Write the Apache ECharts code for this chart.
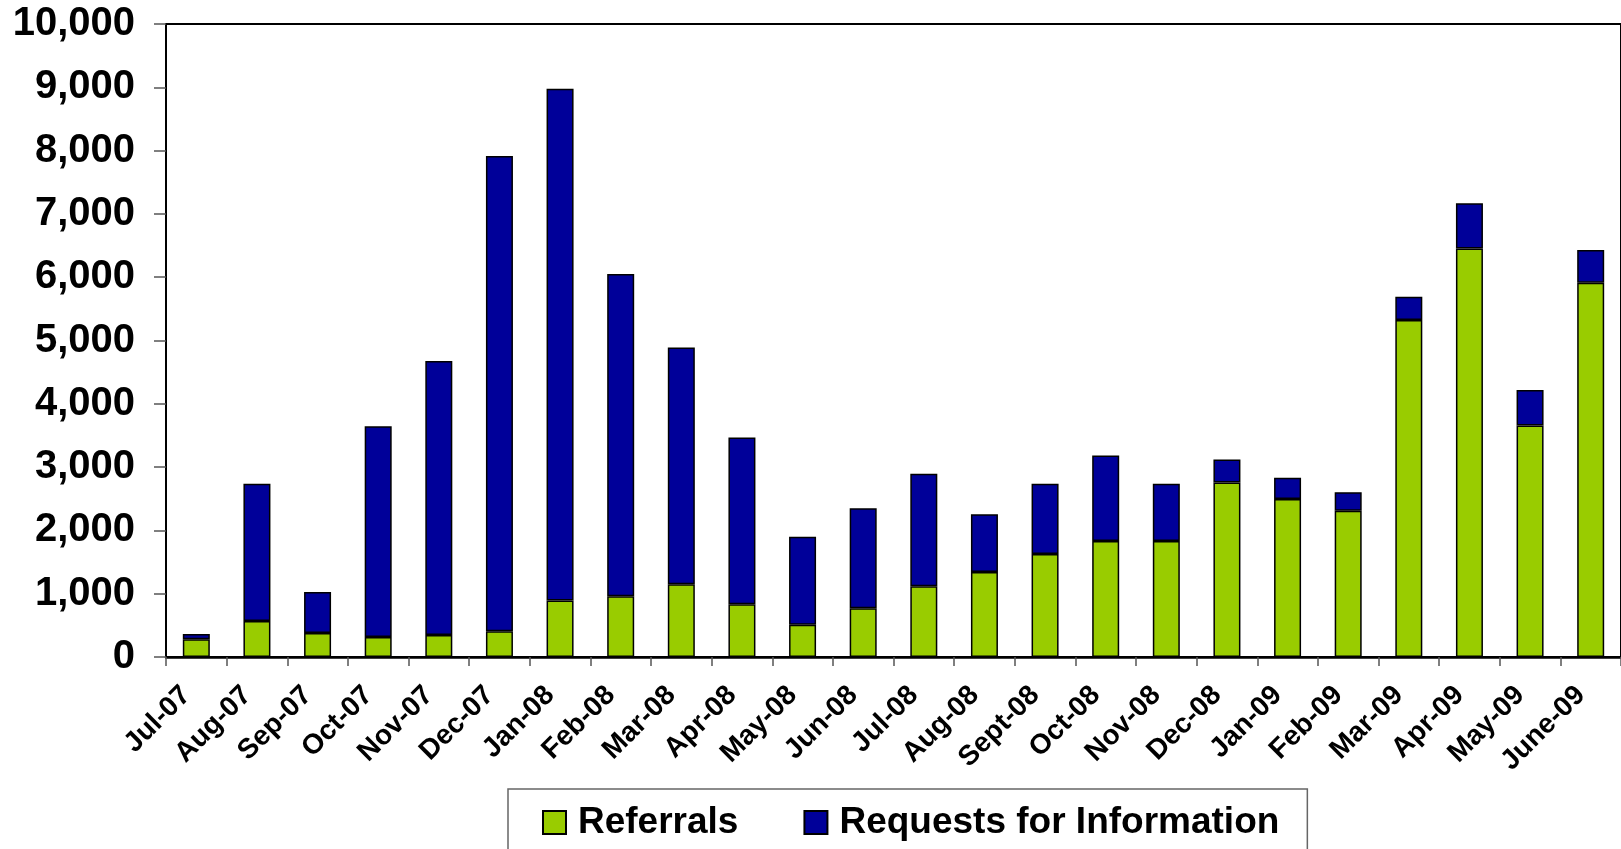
<!DOCTYPE html>
<html>
<head>
<meta charset="utf-8">
<script src="https://cdn.jsdelivr.net/npm/echarts@6/dist/echarts.min.js"></script>
<style>
html,body{margin:0;padding:0;background:#fff;}
#chart{width:1621px;height:849px;}
</style>
</head>
<body>
<div id="chart"></div>
<script>
const categories = ['Jul-07','Aug-07','Sep-07','Oct-07','Nov-07','Dec-07','Jan-08','Feb-08','Mar-08','Apr-08','May-08','Jun-08','Jul-08','Aug-08','Sept-08','Oct-08','Nov-08','Dec-08','Jan-09','Feb-09','Mar-09','Apr-09','May-09','June-09'];
const referrals = [280, 570, 380, 316, 348, 406, 891, 959, 1149, 833, 511, 770, 1117, 1344, 1629, 1834, 1834, 2757, 2498, 2309, 5325, 6452, 3659, 5914];
const requests = [84, 2166, 648, 3331, 4329, 7509, 8087, 5092, 3741, 2634, 1387, 1581, 1777, 912, 1107, 1350, 902, 363, 333, 295, 368, 717, 558, 517];
const yMin = 0, yMax = 10000, yInterval = 1000;

const FONT = "'Liberation Sans', Arial, sans-serif";
const chart = echarts.init(document.getElementById('chart'), null, {renderer: 'canvas'});
chart.setOption({
  animation: false,
  backgroundColor: '#fff',
  grid: {
    left: 166, top: 24, right: -6, bottom: 192,
    show: true, borderColor: '#000', borderWidth: 2, backgroundColor: 'transparent'
  },
  legend: {
    left: 508, top: 789,
    padding: [15, 28, 23, 34],
    itemWidth: 23, itemHeight: 23, itemGap: 65,
    borderColor: '#666', borderWidth: 1.5,
    icon: 'rect',
    textStyle: {fontFamily: FONT, fontWeight: 'bold', fontSize: 37, color: '#000', padding: [0, 0, 0, 7]},
    data: ['Referrals', 'Requests for Information']
  },
  xAxis: {
    type: 'category',
    data: categories,
    boundaryGap: true,
    axisLine: {lineStyle: {color: '#000', width: 2.5}},
    axisTick: {show: true, length: 9, inside: false, lineStyle: {color: '#555', width: 1.5}},
    axisLabel: {
      interval: 0, rotate: 45, margin: 24,
      fontFamily: FONT, fontWeight: 'bold', fontSize: 28, color: '#000',
      padding: [0, 14, 0, 0]
    },
    splitLine: {show: false}
  },
  yAxis: {
    type: 'value',
    min: yMin, max: yMax, interval: yInterval,
    axisLine: {show: true, lineStyle: {color: '#000', width: 2}},
    axisTick: {show: true, length: 12, lineStyle: {color: '#555', width: 1.5}},
    axisLabel: {
      margin: 31,
      fontFamily: FONT, fontWeight: 'bold', fontSize: 40, color: '#000',
      formatter: v => v.toLocaleString('en-US')
    },
    splitLine: {show: false}
  },
  series: [
    {
      name: 'Referrals', type: 'bar', stack: 'total', data: referrals,
      barWidth: 27,
      itemStyle: {color: '#99CC00', borderColor: '#000', borderWidth: 1.5}
    },
    {
      name: 'Requests for Information', type: 'bar', stack: 'total', data: requests,
      barWidth: 27,
      itemStyle: {color: '#000099', borderColor: '#000', borderWidth: 1.5}
    }
  ]
});
</script>
</body>
</html>
